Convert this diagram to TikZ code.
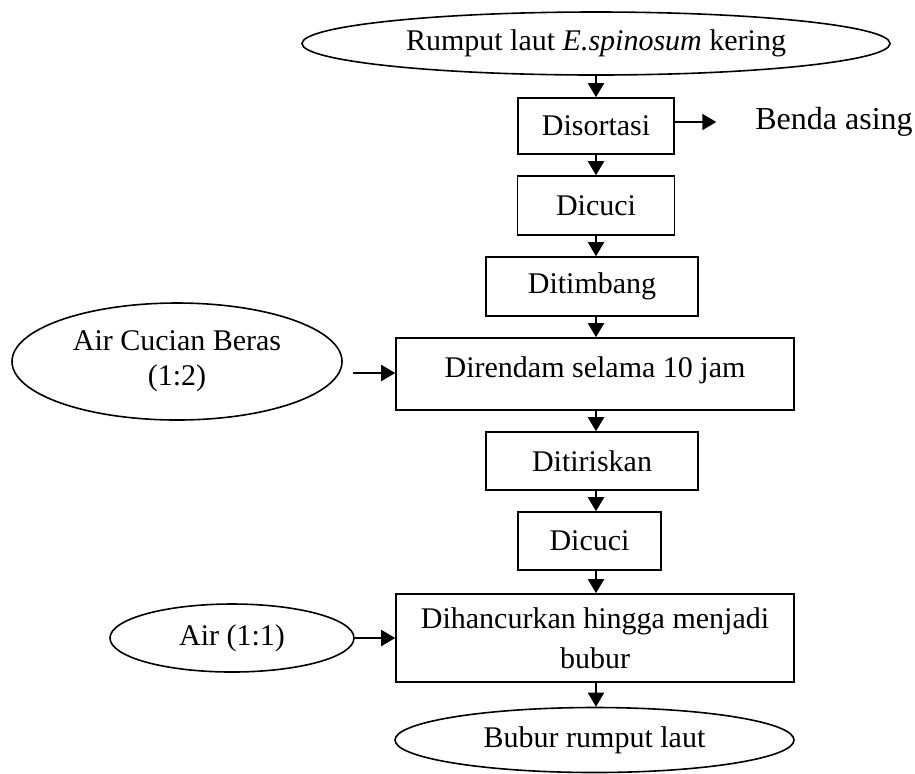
\documentclass[tikz,border=0pt]{standalone}
\usepackage{fontspec}
\setmainfont{Liberation Serif}
\usetikzlibrary{shapes,arrows.meta}
\tikzstyle{block} = [rectangle, draw, line width=0.8pt, align=center, inner sep=0pt]
\tikzstyle{oval} = [ellipse, draw, line width=0.8pt, align=center, inner sep=0pt]
\tikzstyle{arrow} = [draw, -{Triangle[length=7pt, width=8pt]}, line width=1pt]

\begin{document}
\begin{tikzpicture}[x=0.5pt, y=-0.5pt, font=\fontsize{15}{17.5}\selectfont]
\useasboundingbox (0,0) rectangle (915,773);

%% main column
\node[oval, minimum width=294pt, minimum height=31.5pt] at (596, 43.5) (dry) {Rumput laut \textit{E.spinosum} kering};

\node[block, minimum width=78pt, minimum height=28pt] at (596, 126) (sort) {Disortasi};
\path[arrow] (dry.south) -- (sort.north -| dry);

\node[font=\fontsize{16}{19}\selectfont] at (834, 122) (benda) {Benda asing};
\path[arrow] (sort.east |- benda) -- ([xshift=-16pt]benda.west);

\node[block, minimum width=78.5pt, minimum height=29.5pt] at (596, 205.5) (wash) {Dicuci};
\path[arrow] (sort.south -| dry) -- (wash.north -| dry);

\node[block, minimum width=106pt, minimum height=29.5pt] at (592, 286.5) (weigh) {Ditimbang};
\path[arrow] (wash.south -| dry) -- (weigh.north -| dry);

\node[block, minimum width=199pt, minimum height=36pt] at (595, 374) (soak) {\raisebox{6.5pt}{Direndam selama 10 jam}};
\path[arrow] (weigh.south -| dry) -- (soak.north -| dry);

\node[block, minimum width=106pt, minimum height=29pt] at (592, 461) (drain) {Ditiriskan};
\path[arrow] (soak.south -| dry) -- (drain.north -| dry);

\node[block, minimum width=71.5pt, minimum height=29pt] at (589.5, 541) (rinse) {Dicuci};
\path[arrow] (drain.south -| dry) -- (rinse.north -| dry);

\node[block, minimum width=199pt, minimum height=44pt] at (595, 638) (crush) {Dihancurkan hingga menjadi\\[2.5pt]bubur};
\path[arrow] (rinse.south -| dry) -- (crush.north -| dry);

\node[oval, minimum width=199.5pt, minimum height=32.5pt] at (594.5, 740) (pulp) {Bubur rumput laut};
\path[arrow] (crush.south -| dry) -- (pulp.north -| dry);

%% inputs
\node[oval, minimum width=165pt, minimum height=58.5pt] at (177, 361.5) (ricewater) {Air Cucian Beras\\(1:2)};
\coordinate (ricewaterend) at (353, 373);
\path[arrow] (ricewaterend) -- (soak.west |- ricewaterend);

\node[oval, minimum width=122pt, minimum height=34pt] at (232, 638) (water) {Air (1:1)};
\path[arrow] (water.east) -- (crush.west);

\end{tikzpicture}
\end{document}
